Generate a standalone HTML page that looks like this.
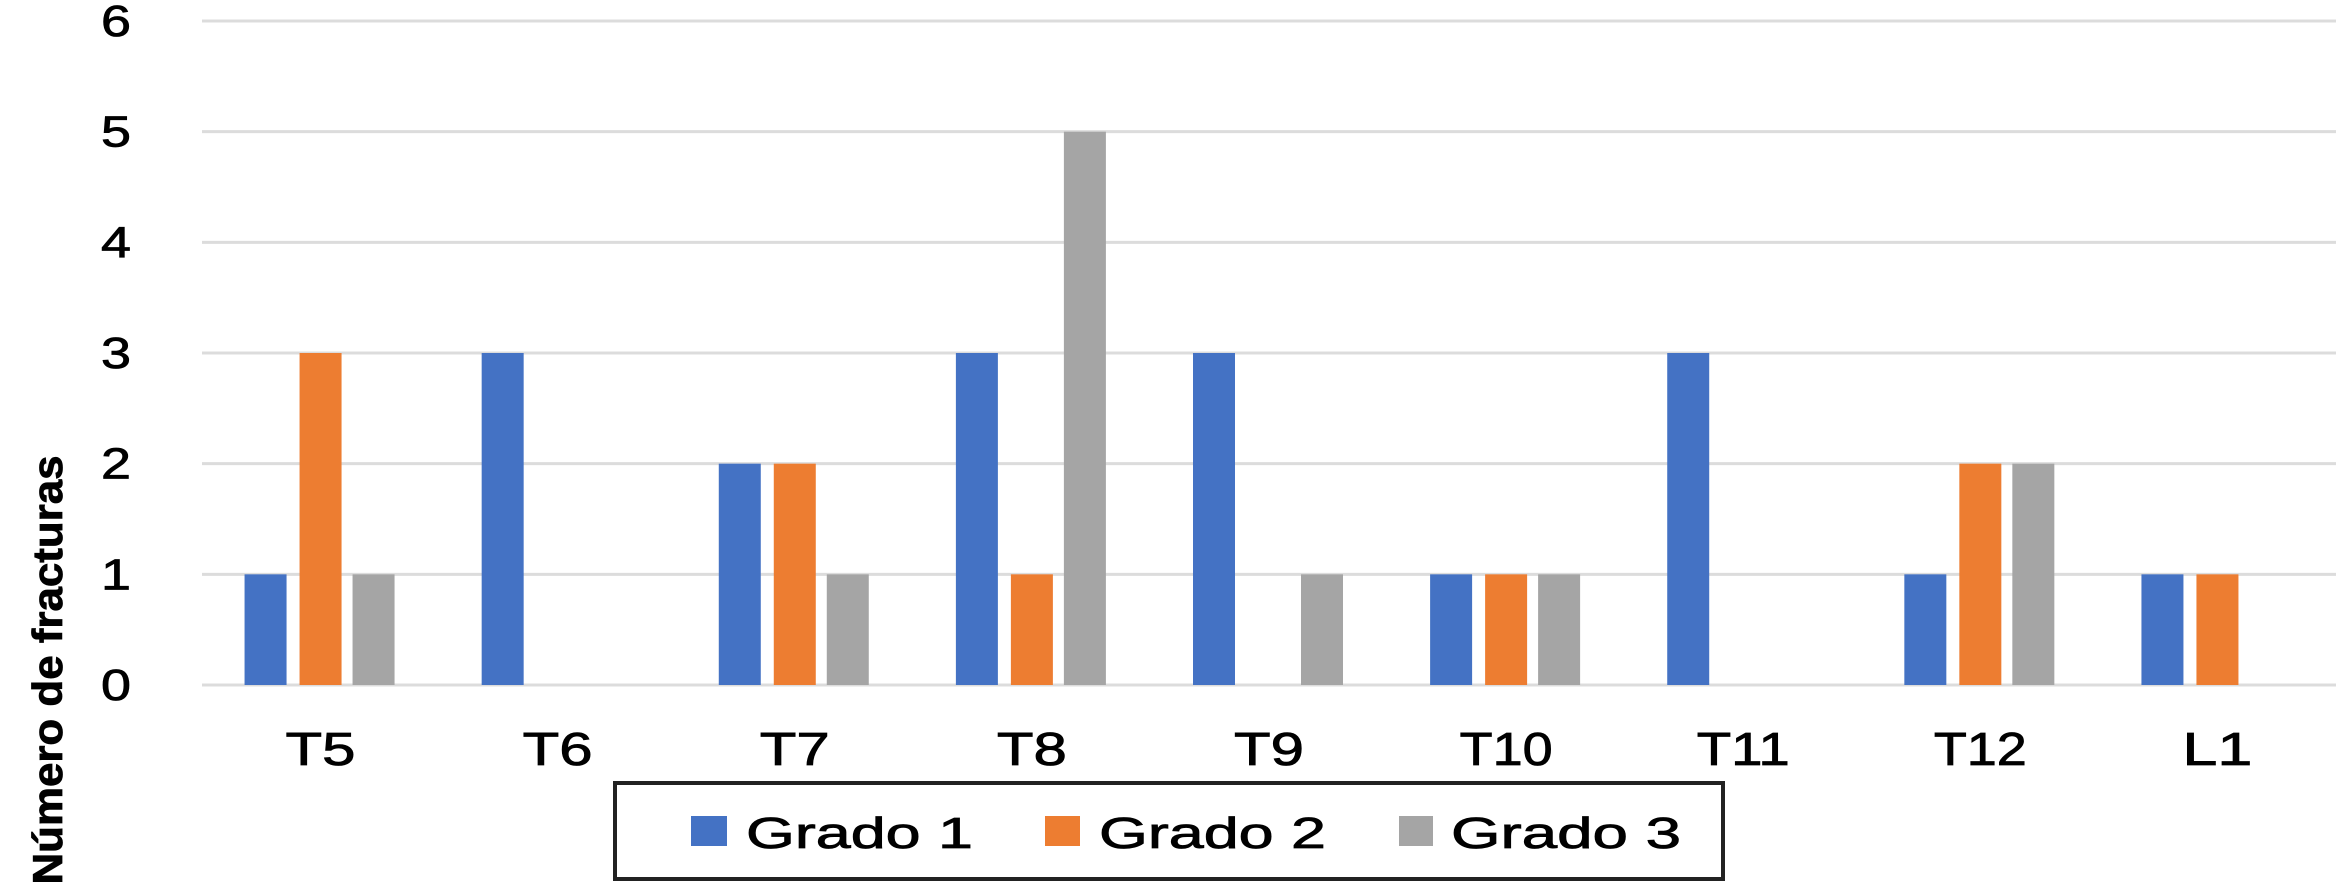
<!DOCTYPE html>
<html><head><meta charset="utf-8"><style>
html,body{margin:0;padding:0;background:#fff;width:2341px;height:889px;overflow:hidden}
svg text{font-family:"Liberation Sans",Arial,sans-serif;fill:#000;stroke:#000;stroke-width:0.8}
</style></head><body>
<svg id="chart" width="2341" height="889" xmlns="http://www.w3.org/2000/svg">
<g id="grid"></g>
<g id="yticks"></g>
<g id="bars"></g>
<g id="xticks"></g>
<text transform="translate(62,670) rotate(-90)" text-anchor="middle" font-size="42" font-weight="bold" textLength="429" lengthAdjust="spacingAndGlyphs">Número de fracturas</text>
<g>
<rect x="615" y="783" width="1108" height="96" fill="#fff" stroke="#222" stroke-width="4"/>
<g>
<rect x="691" y="816" width="36" height="30" fill="#4472C4"/>
<text x="746" y="848" font-size="44" textLength="227" lengthAdjust="spacingAndGlyphs">Grado 1</text></g>
<g>
<rect x="1045" y="816" width="35" height="30" fill="#ED7D31"/>
<text x="1099" y="848" font-size="44" textLength="227" lengthAdjust="spacingAndGlyphs">Grado 2</text></g>
<g>
<rect x="1399" y="816" width="34" height="30" fill="#A5A5A5"/>
<text x="1451" y="848" font-size="44" textLength="230" lengthAdjust="spacingAndGlyphs">Grado 3</text></g>
</g>
</svg>
<script>
const categories = ["T5","T6","T7","T8","T9","T10","T11","T12","L1"];
const grado1 = [1,3,2,3,3,1,3,1,1];
const grado2 = [3,0,2,1,0,1,0,2,1];
const grado3 = [1,0,1,5,1,1,0,2,0];
const yTicks = [0,1,2,3,4,5,6];

const NS = "http://www.w3.org/2000/svg";
const plotL = 202, plotR = 2336, y0 = 685, yTop = 21, yMax = 6;
const band = (plotR - plotL) / categories.length;
const yScale = v => y0 - (v / yMax) * (y0 - yTop);
const xCenter = i => plotL + band * (i + 0.5);

function mk(tag, attrs, parent) {
  const e = document.createElementNS(NS, tag);
  for (const k in attrs) e.setAttribute(k, attrs[k]);
  parent.appendChild(e);
  return e;
}
const grid = document.getElementById("grid");
const yt = document.getElementById("yticks");
yTicks.forEach(t => {
  const l = mk("line", {x1: plotL, x2: plotR, y1: yScale(t), y2: yScale(t), stroke: "#dcdcdc", "stroke-width": 3}, grid);
  
  
  const tx = mk("text", {x: 116, y: yScale(t) + 15, "text-anchor": "middle", "font-size": 44, textLength: 30, lengthAdjust: "spacingAndGlyphs"}, yt);
  tx.textContent = t;
  
  
});
const bars = document.getElementById("bars");
const series = [grado1, grado2, grado3];
const colors = ["#4472C4", "#ED7D31", "#A5A5A5"];
const offsets = [-55, 0, 53];
const bw = 42;
const xt = document.getElementById("xticks");
categories.forEach((c, i) => {
  series.forEach((s, k) => {
    const v = s[i];
    if (v <= 0) return;
    const r = mk("rect", {x: xCenter(i) + offsets[k] - bw / 2, y: yScale(v), width: bw, height: y0 - yScale(v), fill: colors[k]}, bars);
    
    
  });
  const tx = mk("text", {x: xCenter(i), y: 765, "text-anchor": "middle", "font-size": 46, textLength: 23 * c.length + 24, lengthAdjust: "spacingAndGlyphs"}, xt);
  tx.textContent = c;
  
  
});
</script>
</body></html>
